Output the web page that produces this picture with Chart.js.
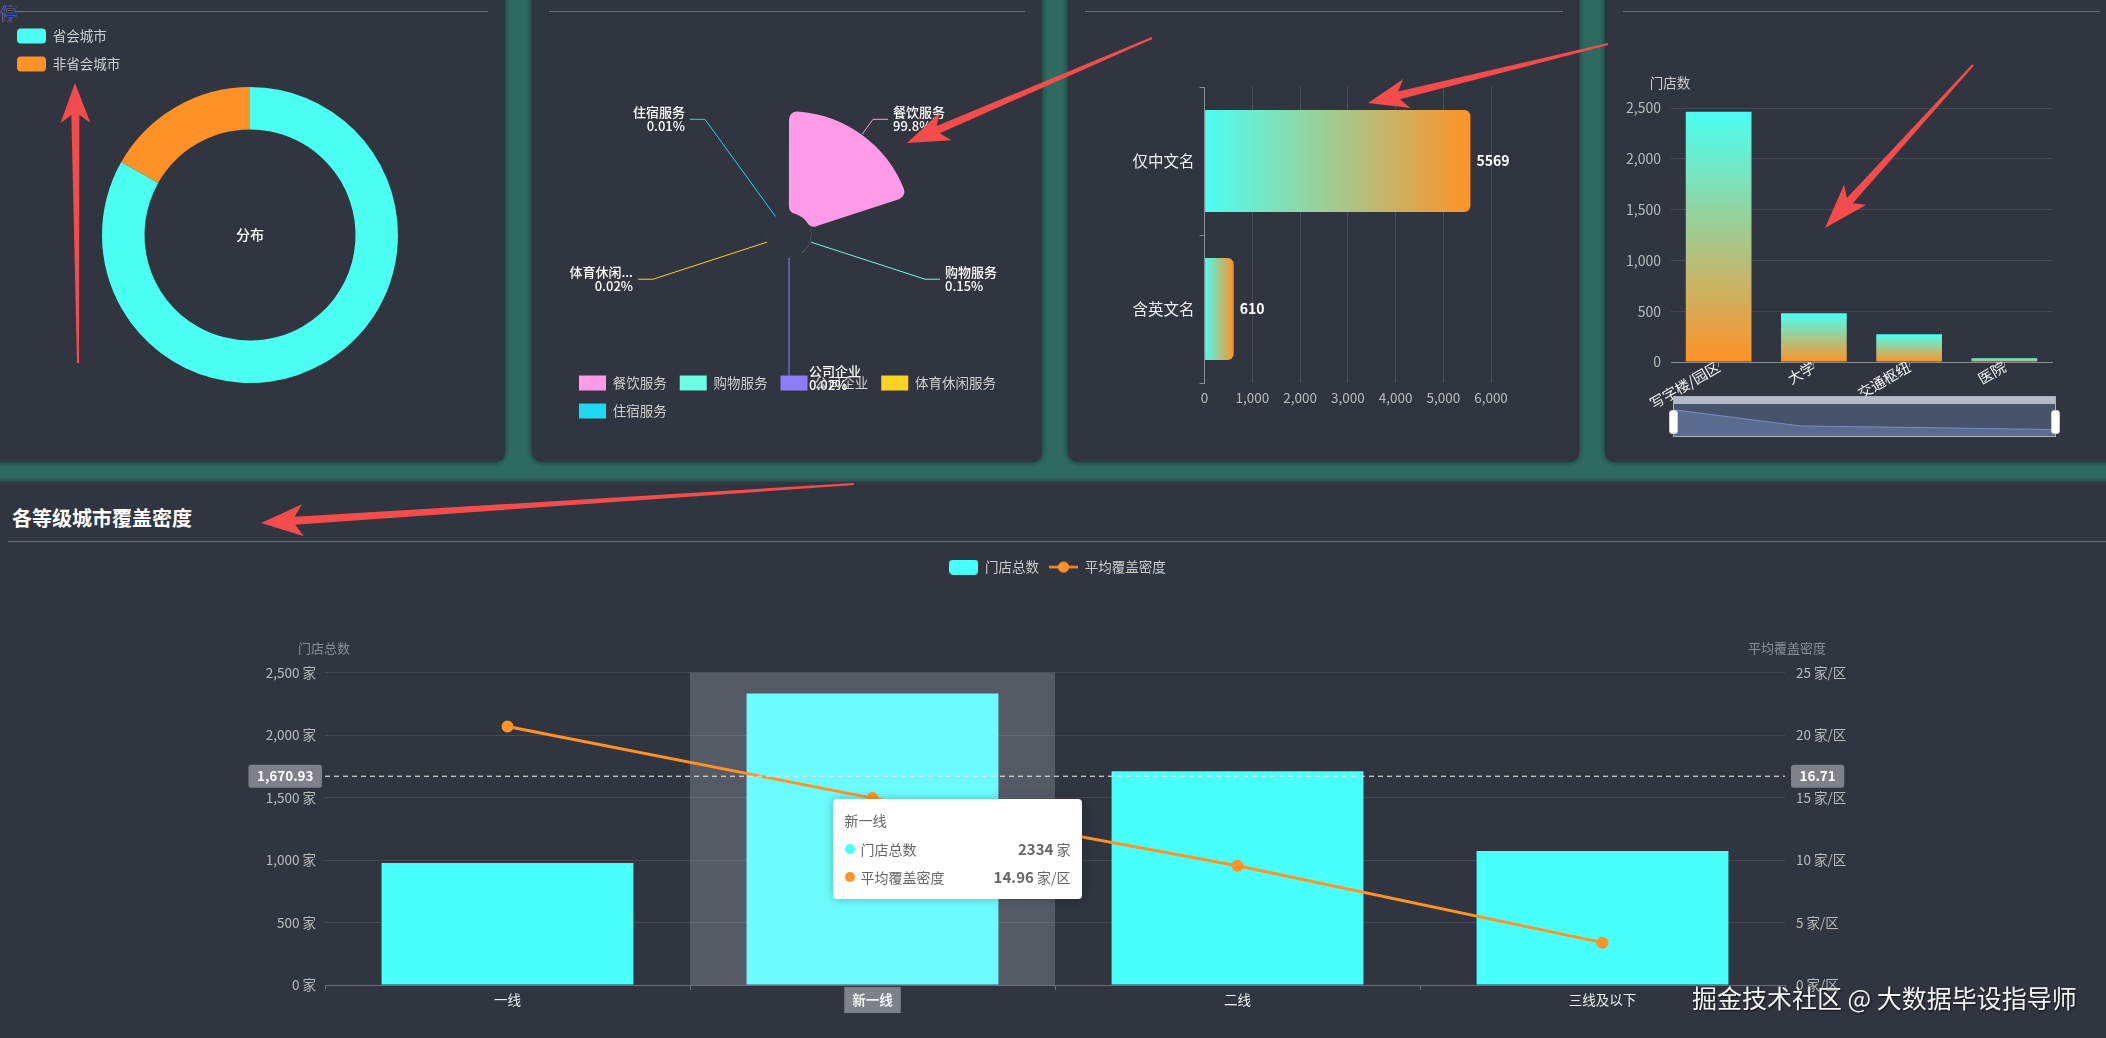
<!DOCTYPE html>
<html lang="zh-CN">
<head>
<meta charset="utf-8">
<title>门店分布看板</title>
<script src="https://cdn.jsdelivr.net/npm/chart.js@4.4.1/dist/chart.umd.min.js"></script>
<style>
  html, body { margin: 0; padding: 0; }
  body {
    width: 2106px; height: 1038px; overflow: hidden; position: relative;
    background: #2f6a61;
    font-family: "Noto Sans CJK SC", "Noto Sans", sans-serif;
  }
  .panel { position: absolute; background: #31353f; border-radius: 10px; box-shadow: 0 0 5px 1px rgba(10, 30, 30, .55); }
  .rule { position: absolute; height: 1px; background: #4b7d79; }
  .abs { position: absolute; }
  canvas { display: block; }
  .title { position: absolute; left: 12px; top: 503px; color: #fff; font-size: 20px; font-weight: bold; }
  .stray { position: absolute; left: 0; top: 0; font-size: 17px; color: #1c2a8c; text-shadow: 0 0 1px #c9d2ff; }
  .mark { position: absolute; left: 1692px; top: 979px; font-size: 25px; color: #f2f2f2; text-shadow: 1px 1px 2px rgba(0,0,0,.7); white-space: nowrap; }
  /* 底部 dataZoom 样式 */
  .dz { position: absolute; left: 1673px; top: 396px; width: 383px; height: 41px; box-sizing: border-box; border: 1px solid #aab1bf; background: #47536b; }
  .dz-top { height: 7px; background: #b4bbc7; }
  .dz-handle { position: absolute; top: 13px; width: 7px; height: 22px; background: #fff; border-radius: 3px; border: 1px solid #c8ccd4; }
  /* tooltip */
  #tip { position: absolute; width: 249px; box-sizing: border-box; padding: 10px 11px 8px 12px; background: #fff; border-radius: 4px; box-shadow: 0 0 10px rgba(0,0,0,.25); color: #666; font-size: 14px; }
  #tip .tt-title { line-height: 22px; margin-bottom: 4px; }
  #tip .tt-row { display: flex; align-items: center; line-height: 27px; }
  #tip .tt-row i { width: 10px; height: 10px; border-radius: 50%; margin-right: 6px; display: inline-block; }
  #tip .tt-name { flex: 1; }
  #tip .tt-val b { font-size: 15px; }
  svg.notes { position: absolute; left: 0; top: 0; pointer-events: none; z-index: 10; }
</style>
</head>
<body>
<div class="panel" style="left:-10px;top:-20px;width:515px;height:482px"></div>
<div class="panel" style="left:532px;top:-20px;width:510px;height:482px"></div>
<div class="panel" style="left:1068px;top:-20px;width:511px;height:482px"></div>
<div class="panel" style="left:1605px;top:-20px;width:520px;height:482px"></div>
<div class="panel" style="left:-10px;top:482px;width:2130px;height:580px"></div>

<div class="rule" style="left:15px;top:11px;width:473px"></div>
<div class="rule" style="left:549px;top:11px;width:476px"></div>
<div class="rule" style="left:1085px;top:11px;width:478px"></div>
<div class="rule" style="left:1623px;top:11px;width:477px"></div>
<div class="rule" style="left:8px;top:541px;width:2098px;background:#56797a"></div>
<div class="stray">停</div>

<canvas id="cityTypeChart" class="abs" style="left:0;top:0" width="505" height="462"></canvas>
<canvas id="serviceChart" class="abs" style="left:532px;top:0" width="510" height="462"></canvas>
<canvas id="nameChart" class="abs" style="left:1068px;top:0" width="511" height="462"></canvas>
<canvas id="sceneChart" class="abs" style="left:1605px;top:0" width="501" height="462"></canvas>
<div class="dz">
  <div class="dz-top"></div>
  <canvas id="sceneZoom" width="381" height="32"></canvas>
  <div class="dz-handle" style="left:-5px"></div>
  <div class="dz-handle" style="right:-5px"></div>
</div>

<div class="title">各等级城市覆盖密度</div>
<canvas id="tierChart" class="abs" style="left:0;top:542px" width="2106" height="496"></canvas>
<div id="tip"></div>
<div class="mark">掘金技术社区 @ 大数据毕设指导师</div>
<svg class="notes" id="notes" width="2106" height="1038"></svg>

<script>
// ---- 数据 ----
const cityTypes = ['省会城市', '非省会城市'];
const cityTypeStores = [5141, 1038];
const donutCenterLabel = '分布';

const serviceTypes = ['餐饮服务', '购物服务', '公司企业', '体育休闲服务', '住宿服务'];
const serviceShare = [99.8, 0.15, 0.02, 0.02, 0.01];

const nameTypes = ['仅中文名', '含英文名'];
const nameTypeStores = [5569, 610];

const sceneTypes = ['写字楼/园区', '大学', '交通枢纽', '医院'];
const sceneStores = [2464, 479, 272, 36];

const cityTiers = ['一线', '新一线', '二线', '三线及以下'];
const tierStores = [976, 2334, 1712, 1072];
const tierDensity = [20.7, 14.96, 9.55, 3.39];
const storeMean = 1670.93;
const densityMean = 16.71;
const HOVER_INDEX = 1;   // 截图时鼠标停在“新一线”

const CYAN = '#4afff2';
const ORANGE = '#ff9227';
const serviceColors = ['#ff9ae9', '#6dfce3', '#8e7cf8', '#fed125', '#1ed9ef'];

Chart.defaults.font.family = '"Noto Sans CJK SC", "Noto Sans", sans-serif';
Chart.defaults.color = '#ccc';
Chart.defaults.animation = false;

// 把饼图中心挪到指定位置
function centerOn(cx, cy, half) {
    return {
        id: 'centerOn',
        afterLayout(chart) {
            const a = chart.chartArea;
            a.left = cx - half; a.right = cx + half;
            a.top = cy - half; a.bottom = cy + half;
            a.width = a.height = half * 2;
        }
    };
}

// ---- 1. 省会 / 非省会 环形图 ----
new Chart(document.getElementById('cityTypeChart'), {
    type: 'doughnut',
    data: {
        labels: cityTypes,
        datasets: [{ data: cityTypeStores, backgroundColor: [CYAN, ORANGE], borderWidth: 0 }]
    },
    options: {
        responsive: false,
        radius: 148,
        cutout: '71.3%',
        layout: { padding: { left: 4, top: 15.5 } },
        plugins: {
            legend: {
                position: 'left', align: 'start',
                labels: { boxWidth: 29, boxHeight: 15, padding: 13, useBorderRadius: true, borderRadius: 4, color: '#d0d0d0', font: { size: 13.5 } }
            },
            tooltip: { enabled: false }
        }
    },
    plugins: [centerOn(250, 235, 150), {
        id: 'centerText',
        afterDatasetsDraw(chart) {
            const arc = chart.getDatasetMeta(0).data[0];
            const ctx = chart.ctx;
            ctx.save();
            ctx.fillStyle = '#fff';
            ctx.font = '500 14px "Noto Sans CJK SC"';
            ctx.textAlign = 'center';
            ctx.textBaseline = 'middle';
            ctx.fillText(donutCenterLabel, arc.x, arc.y);
            ctx.restore();
        }
    }]
});

// ---- 2. 服务类型 南丁格尔玫瑰图 ----
const ROSE = { cx: 257, cy: 235, r: 124 };
new Chart(document.getElementById('serviceChart'), {
    type: 'polarArea',
    data: {
        labels: serviceTypes,
        datasets: [{ data: serviceShare, backgroundColor: serviceColors, borderWidth: 0, borderRadius: 8 }]
    },
    options: {
        responsive: false,
        layout: { padding: { left: 34, right: 10, bottom: 33.5 } },
        scales: { r: { display: false, min: -21.6, max: 100 } },
        plugins: {
            legend: {
                position: 'bottom', align: 'start',
                labels: { boxWidth: 27, boxHeight: 15, padding: 13, useBorderRadius: true, borderRadius: 4, color: '#d0d0d0', font: { size: 13.5 } }
            },
            tooltip: { enabled: false }
        }
    },
    plugins: [{
        id: 'roseFit',
        afterLayout(chart) {
            const s = chart.scales.r;
            s.xCenter = ROSE.cx; s.yCenter = ROSE.cy; s.drawingArea = ROSE.r;
        },
        afterDatasetsUpdate(chart) {
            const inner = chart.scales.r.getDistanceFromCenterForValue(0);
            chart.getDatasetMeta(0).data.forEach(el => { el.innerRadius = inner; });
        },
        afterDatasetsDraw(chart) {
            // 引导线 + 标签
            const ctx = chart.ctx;
            const bendR = ROSE.r + 19;
            ctx.save();
            ctx.font = '500 13px "Noto Sans CJK SC"';
            ctx.textBaseline = 'middle';
            chart.getDatasetMeta(0).data.forEach((arc, i) => {
                const mid = (arc.startAngle + arc.endAngle) / 2;
                const cos = Math.cos(mid), sin = Math.sin(mid);
                const r0 = arc.outerRadius + 1;
                const x1 = arc.x + cos * bendR, y1 = arc.y + sin * bendR;
                const dir = cos < -1e-6 ? -1 : 1;
                const x2 = x1 + dir * 15;
                ctx.strokeStyle = serviceColors[i];
                ctx.lineWidth = 1;
                ctx.beginPath();
                ctx.moveTo(arc.x + cos * r0, arc.y + sin * r0);
                ctx.lineTo(x1, y1);
                ctx.lineTo(x2, y1);
                ctx.stroke();
                const name = serviceTypes[i].length > 4 ? serviceTypes[i].slice(0, 4) + '...' : serviceTypes[i];
                ctx.fillStyle = '#fff';
                ctx.textAlign = dir > 0 ? 'left' : 'right';
                ctx.fillText(name, x2 + dir * 5, y1 - 7);
                ctx.fillText(serviceShare[i] + '%', x2 + dir * 5, y1 + 7);
            });
            ctx.restore();
        }
    }]
});

// 渐变色（每根柱子单独计算）
function hGradient(c) {
    const chart = c.chart;
    if (!chart.chartArea || c.raw === undefined) return CYAN;
    const xs = chart.scales.x;
    const g = chart.ctx.createLinearGradient(xs.getPixelForValue(0), 0, xs.getPixelForValue(c.raw), 0);
    g.addColorStop(0, CYAN);
    g.addColorStop(1, ORANGE);
    return g;
}
function vGradient(c) {
    const chart = c.chart;
    if (!chart.chartArea || c.raw === undefined) return CYAN;
    const ys = chart.scales.y;
    const g = chart.ctx.createLinearGradient(0, ys.getPixelForValue(c.raw), 0, ys.getPixelForValue(0));
    g.addColorStop(0, CYAN);
    g.addColorStop(1, ORANGE);
    return g;
}

// ---- 3. 店名类型 横向柱状图 ----
new Chart(document.getElementById('nameChart'), {
    type: 'bar',
    data: {
        labels: nameTypes,
        datasets: [{ data: nameTypeStores, backgroundColor: hGradient, borderRadius: 6, borderSkipped: 'start', barPercentage: 0.69, categoryPercentage: 1 }]
    },
    options: {
        indexAxis: 'y',
        responsive: false,
        layout: { padding: { left: 16.6, top: 87, right: 88, bottom: 49 } },
        scales: {
            x: {
                min: 0, max: 6000,
                ticks: { stepSize: 1000, color: '#bbb', font: { size: 13.5 }, padding: 7 },
                grid: { color: 'rgba(255,255,255,0.12)', drawTicks: false },
                border: { display: false },
                afterFit: s => { s.height = 30; }
            },
            y: {
                ticks: { color: '#eee', font: { size: 15.5 }, padding: 5 },
                grid: { drawOnChartArea: false, tickLength: 5, color: '#8a8d94' },
                border: { color: '#8a8d94' },
                afterFit: s => { s.width = 120; }
            }
        },
        plugins: { legend: { display: false }, tooltip: { enabled: false } }
    },
    plugins: [{
        id: 'barValues',
        afterDatasetsDraw(chart) {
            const ctx = chart.ctx;
            ctx.save();
            ctx.font = 'bold 14px "Noto Sans CJK SC"';
            ctx.fillStyle = '#fff';
            ctx.textBaseline = 'middle';
            chart.getDatasetMeta(0).data.forEach((bar, i) => {
                ctx.fillText(String(nameTypeStores[i]), bar.x + 6, bar.y);
            });
            ctx.restore();
        }
    }]
});

// ---- 4. 场景 门店数 ----
new Chart(document.getElementById('sceneChart'), {
    type: 'bar',
    data: {
        labels: sceneTypes,
        datasets: [{ data: sceneStores, backgroundColor: vGradient, barPercentage: 0.69, categoryPercentage: 1 }]
    },
    options: {
        responsive: false,
        layout: { padding: { left: 10, top: 108, right: 54, bottom: 40 } },
        scales: {
            x: {
                ticks: { color: '#f2f2f2', font: { size: 14.5 }, minRotation: 30, maxRotation: 30, padding: -9 },
                grid: { drawOnChartArea: false, offset: false, tickLength: 5, color: '#8a8d94' },
                border: { color: '#8a8d94' },
                afterFit: s => { s.height = 60; }
            },
            y: {
                min: 0, max: 2500,
                ticks: { stepSize: 500, color: '#bbb', font: { size: 14 }, padding: 10 },
                grid: { color: 'rgba(255,255,255,0.1)', drawTicks: false },
                border: { display: false },
                afterFit: s => { s.width = 56; }
            }
        },
        plugins: { legend: { display: false }, tooltip: { enabled: false } }
    },
    plugins: [{
        id: 'axisName',
        afterDraw(chart) {
            const ctx = chart.ctx;
            ctx.save();
            ctx.font = '13.5px "Noto Sans CJK SC"';
            ctx.fillStyle = '#ccc';
            ctx.textAlign = 'center';
            ctx.textBaseline = 'middle';
            ctx.fillText('门店数', chart.chartArea.left - 1, chart.chartArea.top - 25);
            ctx.restore();
        }
    }]
});

// dataZoom 的数据阴影
new Chart(document.getElementById('sceneZoom'), {
    type: 'line',
    data: {
        labels: sceneTypes,
        datasets: [{ data: sceneStores, borderColor: '#7890c0', borderWidth: 1, backgroundColor: '#5a6b8e', fill: 'start', pointRadius: 0, tension: 0 }]
    },
    options: {
        responsive: false,
        scales: { x: { display: false, offset: false }, y: { display: false, min: -750, max: 3180 } },
        plugins: { legend: { display: false }, tooltip: { enabled: false } }
    }
});

// ---- 5. 各等级城市覆盖密度 ----
function legendIcon(kind) {
    const c = document.createElement('canvas');
    c.width = 29; c.height = 15;
    const g = c.getContext('2d');
    if (kind === 'bar') {
        g.fillStyle = '#48fff9';
        g.beginPath(); g.roundRect(0, 0, 29, 15, 4); g.fill();
    } else {
        g.strokeStyle = ORANGE; g.lineWidth = 2.5;
        g.beginPath(); g.moveTo(0, 7.5); g.lineTo(29, 7.5); g.stroke();
        g.fillStyle = ORANGE;
        g.beginPath(); g.arc(14.5, 7.5, 5.5, 0, Math.PI * 2); g.fill();
    }
    return c;
}
const barIcon = legendIcon('bar');
const lineIcon = legendIcon('line');

function drawTag(ctx, text, x, y, align) {
    ctx.font = '600 13.5px "Noto Sans CJK SC"';
    const w = ctx.measureText(text).width + 17;
    const left = align === 'right' ? x - w : x;
    ctx.fillStyle = '#7e8189';
    ctx.beginPath(); ctx.roundRect(left, y - 11.5, w, 23, 3); ctx.fill();
    ctx.fillStyle = '#fff';
    ctx.textAlign = 'center';
    ctx.textBaseline = 'middle';
    ctx.fillText(text, left + w / 2, y);
}

function showTip(context) {
    const { chart, tooltip } = context;
    const tip = document.getElementById('tip');
    if (!tooltip.dataPoints || !tooltip.dataPoints.length) return;
    const pts = [...tooltip.dataPoints].sort((a, b) => a.datasetIndex - b.datasetIndex);
    let html = `<div class="tt-title">${tooltip.title[0]}</div>`;
    pts.forEach(p => {
        html += `<div class="tt-row"><i style="background:${p.dataset.tipColor}"></i>` +
            `<span class="tt-name">${p.dataset.label}</span>` +
            `<span class="tt-val"><b>${p.raw}</b> ${p.dataset.unit}</span></div>`;
    });
    tip.innerHTML = html;
    const linePt = pts.find(p => p.datasetIndex === 1);
    tip.style.left = (chart.canvas.offsetLeft + tooltip.caretX - 40) + 'px';
    tip.style.top = (chart.canvas.offsetTop + linePt.element.y + 1) + 'px';
}

const tierChart = new Chart(document.getElementById('tierChart'), {
    type: 'bar',
    data: {
        labels: cityTiers,
        datasets: [
            {
                label: '门店总数', data: tierStores, yAxisID: 'y', order: 2,
                backgroundColor: c => c.dataIndex === HOVER_INDEX ? '#6cfbfc' : '#48fff9',
                barPercentage: 0.69, categoryPercentage: 1,
                tipColor: '#48fff9', unit: '家'
            },
            {
                type: 'line', label: '平均覆盖密度', data: tierDensity, yAxisID: 'y1', order: 1,
                borderColor: ORANGE, backgroundColor: ORANGE, borderWidth: 3,
                pointRadius: 4.5, pointHoverRadius: 4.5, tension: 0,
                tipColor: ORANGE, unit: '家/区'
            }
        ]
    },
    options: {
        responsive: false,
        layout: { padding: { left: 230, right: 221, top: 8.3, bottom: 25 } },
        interaction: { mode: 'index', intersect: false },
        scales: {
            x: {
                grid: { drawOnChartArea: false, tickLength: 5, color: '#6e7079' },
                border: { color: '#6e7079' },
                ticks: {
                    color: '#eee', padding: 2,
                    font: c => ({ size: 13.5, weight: c.index === HOVER_INDEX ? 'bold' : 'normal' }),
                    showLabelBackdrop: c => c.index === HOVER_INDEX,
                    backdropColor: '#7e8189',
                    backdropPadding: { x: 8, y: 5 }
                },
                afterFit: s => { s.height = 28; }
            },
            // 占位轴：给图例和坐标轴名称留出空间
            xTop: {
                type: 'category', position: 'top',
                ticks: { display: false }, grid: { display: false }, border: { display: false },
                afterFit: s => { s.height = 88.9; }
            },
            y: {
                position: 'left', min: 0, max: 2500,
                ticks: { stepSize: 500, padding: 9, color: '#bbb', font: { size: 13.5 }, callback: v => v.toLocaleString('en-US') + ' 家' },
                grid: { color: 'rgba(255,255,255,0.1)', drawTicks: false },
                border: { display: false },
                afterFit: s => { s.width = 95; }
            },
            y1: {
                position: 'right', min: 0, max: 25,
                ticks: { stepSize: 5, padding: 11, color: '#bbb', font: { size: 13.5 }, callback: v => v + ' 家/区' },
                grid: { drawOnChartArea: false, drawTicks: false },
                border: { display: false },
                afterFit: s => { s.width = 100; }
            }
        },
        plugins: {
            legend: {
                position: 'top',
                labels: {
                    usePointStyle: true, pointStyleWidth: 29, padding: 10, color: '#ccc', font: { size: 13.5 },
                    sort: (a, b) => a.datasetIndex - b.datasetIndex,
                    generateLabels: chart => Chart.defaults.plugins.legend.labels.generateLabels(chart)
                        .map(item => Object.assign(item, { pointStyle: item.datasetIndex === 0 ? barIcon : lineIcon }))
                }
            },
            tooltip: { enabled: false, external: showTip }
        }
    },
    plugins: [{
        id: 'hoverShadow',
        beforeDatasetsDraw(chart) {
            const { ctx, chartArea: a, scales } = chart;
            const half = a.width / cityTiers.length / 2;
            const x = scales.x.getPixelForValue(HOVER_INDEX);
            ctx.save();
            ctx.fillStyle = 'rgba(200,205,215,0.25)';
            ctx.fillRect(x - half, a.top, half * 2, a.bottom - a.top);
            ctx.restore();
        }
    }, {
        id: 'meanLines',
        afterDatasetsDraw(chart) {
            const { ctx, chartArea: a, scales } = chart;
            const yL = scales.y.getPixelForValue(storeMean);
            const yR = scales.y1.getPixelForValue(densityMean);
            ctx.save();
            ctx.setLineDash([5, 4]);
            ctx.strokeStyle = 'rgba(225,225,225,0.75)';
            ctx.lineWidth = 1;
            [yL, yR].forEach(y => {
                ctx.beginPath(); ctx.moveTo(a.left, y); ctx.lineTo(a.right, y); ctx.stroke();
            });
            ctx.setLineDash([]);
            drawTag(ctx, storeMean.toLocaleString('en-US', { minimumFractionDigits: 2 }), a.left - 3, yL, 'right');
            drawTag(ctx, densityMean.toFixed(2), a.right + 6, yR, 'left');
            ctx.restore();
        }
    }, {
        id: 'axisNames',
        afterDraw(chart) {
            const { ctx, chartArea: a } = chart;
            ctx.save();
            ctx.font = '13px "Noto Sans CJK SC"';
            ctx.fillStyle = '#8a8d94';
            ctx.textAlign = 'center';
            ctx.textBaseline = 'middle';
            ctx.fillText('门店总数', a.left - 1, a.top - 25);
            ctx.fillText('平均覆盖密度', a.right + 2, a.top - 25);
            ctx.restore();
        }
    }]
});

// 鼠标悬停状态
tierChart.tooltip.setActiveElements(
    [{ datasetIndex: 0, index: HOVER_INDEX }, { datasetIndex: 1, index: HOVER_INDEX }],
    { x: tierChart.scales.x.getPixelForValue(HOVER_INDEX), y: tierChart.scales.y1.getPixelForValue(tierDensity[HOVER_INDEX]) }
);

// ---- 截图上的红色标注箭头 ----
const annotationArrows = [
    { from: [78, 363], to: [75, 83], head: 40, half: 15 },
    { from: [1152, 38], to: [907, 143], head: 42, half: 15 },
    { from: [1608, 44], to: [1368, 103], head: 40, half: 15 },
    { from: [1973, 65], to: [1825, 228], head: 45, half: 15 },
    { from: [854, 484], to: [261, 523], head: 42, half: 16 }
];
const svg = document.getElementById('notes');
annotationArrows.forEach(({ from, to, head, half }) => {
    const [x0, y0] = from, [x1, y1] = to;
    const L = Math.hypot(x1 - x0, y1 - y0);
    const ux = (x1 - x0) / L, uy = (y1 - y0) / L, nx = -uy, ny = ux;
    const bx = x1 - ux * head, by = y1 - uy * head;
    const kx = bx + ux * 8, ky = by + uy * 8;
    const pts = [
        [x0 + nx * 1, y0 + ny * 1], [kx + nx * 4, ky + ny * 4], [bx + nx * half, by + ny * half],
        [x1, y1],
        [bx - nx * half, by - ny * half], [kx - nx * 4, ky - ny * 4], [x0 - nx * 1, y0 - ny * 1]
    ];
    const p = document.createElementNS('http://www.w3.org/2000/svg', 'polygon');
    p.setAttribute('points', pts.map(q => q.join(',')).join(' '));
    p.setAttribute('fill', '#f24c4c');
    svg.appendChild(p);
});
</script>
</body>
</html>
